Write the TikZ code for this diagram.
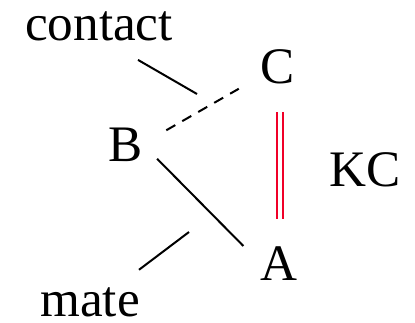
\documentclass[tikz,border=0pt]{standalone}
\usepackage{fontspec}
\setmainfont{Liberation Serif}
\definecolor{kcred}{RGB}{240,0,40}
\begin{document}
\begin{tikzpicture}[x=0.5pt, y=-0.5pt,
    lbl/.style={inner sep=0pt, anchor=base, font=\fontsize{25.6}{30}\selectfont},
    edge/.style={line width=1pt},
    kc/.style={line width=1pt, draw=kcred, double=white, double distance=2pt}
    ]
    \useasboundingbox (0,0) rectangle (415,322);
    \node[lbl] (contact) at (99,40) {contact};
    \node[lbl] (c) at (278,83) {C};
    \node[lbl] (b) at (126,161) {B};
    \node[lbl] (a) at (279,280) {A};
    \node[lbl] (mate) at (90,316) {mate};
    \node[lbl] (kc) at (365,186) {KC};
    \coordinate (ct) at (197,94);
    \coordinate (mt) at (189,232);
    \draw[edge, dash pattern=on 5.2pt off 4pt, shorten <=23.2pt, shorten >=22.6pt]
      ([yshift=-4.5pt]b.center) -- (c.center);
    \draw[edge, shorten <=22.1pt, shorten >=25.3pt]
      ([yshift=8.5pt]b.center) -- ([yshift=-1pt]a.base);
    \draw[kc, shorten <=14pt, shorten >=13.5pt]
      ([xshift=0.85pt]c.south) -- ([xshift=0.35pt]a.north);
    \draw[edge] ([xshift=19.5pt,yshift=-9.5pt]contact.south) -- (ct);
    \draw[edge] ([xshift=24.5pt,yshift=8.5pt]mate.north) -- (mt);
  \end{tikzpicture}
\end{document}
